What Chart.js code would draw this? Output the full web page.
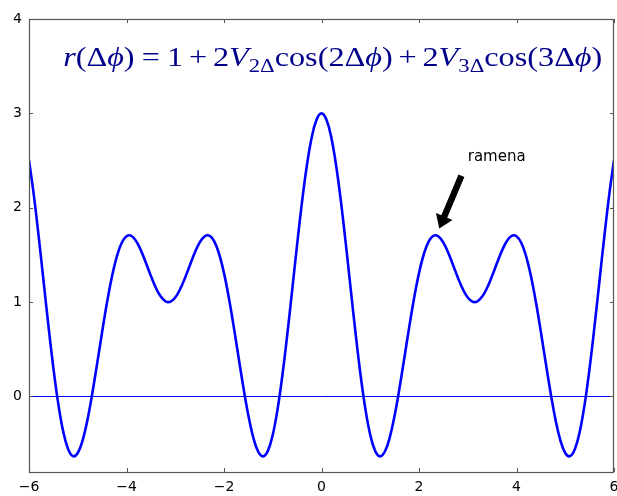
<!DOCTYPE html>
<html>
<head>
<meta charset="utf-8">
<script src="https://cdn.jsdelivr.net/npm/chart.js@4/dist/chart.umd.min.js"></script>
<style>
  html, body { margin: 0; padding: 0; background: #fff; }
</style>
</head>
<body>
<canvas id="ramena" width="617" height="496"></canvas>
<script>
// sampled r(dphi), dphi from -6 to 6
const dphi = [
  -6, -5.9, -5.8, -5.7, -5.6, -5.5, -5.4, -5.3, -5.2, -5.1,
  -5, -4.9, -4.8, -4.7, -4.6, -4.5, -4.4, -4.3, -4.2, -4.1,
  -4, -3.9, -3.8, -3.7, -3.6, -3.5, -3.4, -3.3, -3.2, -3.1,
  -3, -2.9, -2.8, -2.7, -2.6, -2.5, -2.4, -2.3, -2.2, -2.1,
  -2, -1.9, -1.8, -1.7, -1.6, -1.5, -1.4, -1.3, -1.2, -1.1,
  -1, -0.9, -0.8, -0.7, -0.6, -0.5, -0.4, -0.3, -0.2, -0.1,
  0,
  0.1, 0.2, 0.3, 0.4, 0.5, 0.6, 0.7, 0.8, 0.9, 1,
  1.1, 1.2, 1.3, 1.4, 1.5, 1.6, 1.7, 1.8, 1.9, 2,
  2.1, 2.2, 2.3, 2.4, 2.5, 2.6, 2.7, 2.8, 2.9, 3,
  3.1, 3.2, 3.3, 3.4, 3.5, 3.6, 3.7, 3.8, 3.9, 4,
  4.1, 4.2, 4.3, 4.4, 4.5, 4.6, 4.7, 4.8, 4.9, 5,
  5.1, 5.2, 5.3, 5.4, 5.5, 5.6, 5.7, 5.8, 5.9, 6
];
const r = [
  2.504, 2.129, 1.689, 1.216, 0.742, 0.302, -0.076, -0.367, -0.555, -0.632,
  -0.599, -0.464, -0.245, 0.038, 0.356, 0.684, 0.995, 1.266, 1.480, 1.626,
  1.698, 1.702, 1.645, 1.543, 1.414, 1.278, 1.155, 1.061, 1.009, 1.004,
  1.049, 1.137, 1.256, 1.391, 1.523, 1.630, 1.696, 1.704, 1.643, 1.510,
  1.307, 1.044, 0.738, 0.411, 0.089, -0.201, -0.433, -0.583, -0.634, -0.576,
  -0.406, -0.131, 0.233, 0.665, 1.135, 1.611, 2.059, 2.447, 2.746, 2.935,
  3.000,
  2.935, 2.746, 2.447, 2.059, 1.611, 1.135, 0.665, 0.233, -0.131, -0.406,
  -0.576, -0.634, -0.583, -0.433, -0.201, 0.089, 0.411, 0.738, 1.044, 1.307,
  1.510, 1.643, 1.704, 1.696, 1.630, 1.523, 1.391, 1.256, 1.137, 1.049,
  1.004, 1.009, 1.061, 1.155, 1.278, 1.414, 1.543, 1.645, 1.702, 1.698,
  1.626, 1.480, 1.266, 0.995, 0.684, 0.356, 0.038, -0.245, -0.464, -0.599,
  -0.632, -0.555, -0.367, -0.076, 0.302, 0.742, 1.216, 1.689, 2.129, 2.504
];
const zeroX = [-6, 6];
const zeroY = [0, 0];

const xTicks = [-6, -4, -2, 0, 2, 4, 6];
const yTicks = [0, 1, 2, 3, 4];

const noteText = 'ramena';
const noteAt = [3.0, 2.5];
const peakAt = [2.35, 1.70];
const formulaSpan = [-5.3, 5.76];
const formulaBase = 3.5;

// r(Δϕ) = 1 + 2V2Δ cos(2Δϕ) + 2V3Δ cos(3Δϕ), split into runs: i italic, n upright, s subscript, number = gap in em
const formula = [
  ['r', 'i'], ['(', 'n'], ['Δ', 'n'], ['ϕ', 'i'], [')', 'n'], [0.22], ['=', 'n'], [0.22], ['1', 'n'],
  [0.18], ['+', 'n'], [0.18], ['2', 'n'], ['V', 'i'], ['2Δ', 's'], ['cos', 'n'], ['(2', 'n'], ['Δ', 'n'], ['ϕ', 'i'], [')', 'n'],
  [0.18], ['+', 'n'], [0.18], ['2', 'n'], ['V', 'i'], ['3Δ', 's'], ['cos', 'n'], ['(3', 'n'], ['Δ', 'n'], ['ϕ', 'i'], [')', 'n']
];

const tickFont = { family: 'DejaVu Sans', size: 14 };
const frameColor = '#555555';

const framePlugin = {
  id: 'frame',
  afterDatasetsDraw(chart) {
    const { ctx, chartArea: a, scales: { x, y } } = chart;
    ctx.save();
    ctx.strokeStyle = frameColor;
    ctx.lineWidth = 1;
    ctx.beginPath();
    xTicks.forEach(v => {
      const px = Math.round(x.getPixelForValue(v)) + 0.5;
      ctx.moveTo(px, a.bottom); ctx.lineTo(px, a.bottom - 4);
      ctx.moveTo(px, a.top); ctx.lineTo(px, a.top + 4);
    });
    yTicks.forEach(v => {
      const py = Math.round(y.getPixelForValue(v)) + 0.5;
      ctx.moveTo(a.left, py); ctx.lineTo(a.left + 4, py);
      ctx.moveTo(a.right, py); ctx.lineTo(a.right - 4, py);
    });
    ctx.stroke();
    ctx.lineWidth = 1.2;
    ctx.strokeRect(Math.round(a.left) + 0.5, Math.round(a.top) + 0.5,
      Math.round(a.right - a.left) - 1, Math.round(a.bottom - a.top));
    ctx.restore();
  }
};

const notesPlugin = {
  id: 'notes',
  afterDraw(chart) {
    const { ctx, scales: { x, y } } = chart;
    ctx.save();

    // formula
    const size = 27;
    const fam = '"Liberation Serif", "DejaVu Serif", serif';
    const fontOf = s => s === 'i' ? `italic ${size}px ${fam}` : s === 's' ? `${Math.round(size * 0.7)}px ${fam}` : `${size}px ${fam}`;
    let total = 0;
    const widths = formula.map(p => {
      let w;
      if (typeof p[0] === 'number') w = p[0] * size;
      else { ctx.font = fontOf(p[1]); w = ctx.measureText(p[0]).width; }
      total += w;
      return w;
    });
    const x0 = x.getPixelForValue(formulaSpan[0]);
    const x1 = x.getPixelForValue(formulaSpan[1]);
    const by = y.getPixelForValue(formulaBase);
    ctx.translate(x0, by);
    ctx.scale((x1 - x0) / total, 1);
    ctx.fillStyle = '#00008b';
    ctx.textBaseline = 'alphabetic';
    ctx.textAlign = 'left';
    let cx = 0;
    formula.forEach((p, i) => {
      if (typeof p[0] !== 'number') {
        ctx.font = fontOf(p[1]);
        ctx.fillText(p[0], cx, p[1] === 's' ? size * 0.2 : 0);
      }
      cx += widths[i];
    });
    ctx.setTransform(1, 0, 0, 1, 0, 0);

    // annotation text
    const tx = x.getPixelForValue(noteAt[0]);
    const ty = y.getPixelForValue(noteAt[1]);
    ctx.fillStyle = '#000';
    ctx.font = '15px "DejaVu Sans"';
    ctx.fillText(noteText, tx, ty);

    // arrow towards the peak
    const px = x.getPixelForValue(peakAt[0]);
    const py = y.getPixelForValue(peakAt[1]);
    const vx = px - tx, vy = py - ty;
    const sx = tx + vx * 0.2, sy = ty + vy * 0.2;
    const ex = tx + vx * 0.9, ey = ty + vy * 0.9;
    const len = Math.hypot(ex - sx, ey - sy);
    const ux = (ex - sx) / len, uy = (ey - sy) / len;
    const nx = -uy, ny = ux;
    const sw = 3.2, hw = 9, hl = 13;
    const bx = ex - ux * hl, byy = ey - uy * hl;
    ctx.beginPath();
    ctx.moveTo(sx + nx * sw, sy + ny * sw);
    ctx.lineTo(bx + nx * sw, byy + ny * sw);
    ctx.lineTo(bx + nx * hw, byy + ny * hw);
    ctx.lineTo(ex, ey);
    ctx.lineTo(bx - nx * hw, byy - ny * hw);
    ctx.lineTo(bx - nx * sw, byy - ny * sw);
    ctx.lineTo(sx - nx * sw, sy - ny * sw);
    ctx.closePath();
    ctx.fill();
    ctx.restore();
  }
};

const minusSign = v => String(v).replace('-', '\u2212');

new Chart(document.getElementById('ramena').getContext('2d'), {
  type: 'line',
  data: {
    datasets: [{
      data: dphi.map((v, i) => ({ x: v, y: r[i] })),
      borderColor: '#0000ff',
      borderWidth: 2.6,
      pointRadius: 0,
      tension: 0.4,
      fill: false
    }, {
      data: zeroX.map((v, i) => ({ x: v, y: zeroY[i] })),
      borderColor: '#0000ff',
      borderWidth: 1,
      pointRadius: 0,
      fill: false
    }]
  },
  options: {
    responsive: false,
    animation: false,
    devicePixelRatio: 1,
    layout: { padding: { top: 19, right: 3, left: 0, bottom: 0 } },
    plugins: {
      legend: { display: false },
      tooltip: { enabled: false }
    },
    scales: {
      x: {
        type: 'linear',
        min: -6,
        max: 6,
        grid: { display: false, drawTicks: false },
        border: { display: false },
        afterBuildTicks: s => { s.ticks = xTicks.map(v => ({ value: v })); },
        afterFit: s => { s.height = 24; s.paddingLeft = 0; s.paddingRight = 0; },
        ticks: { font: tickFont, color: '#000', padding: 7, maxRotation: 0, autoSkip: false, callback: minusSign }
      },
      y: {
        min: -0.8,
        max: 4,
        grid: { display: false, drawTicks: false },
        border: { display: false },
        afterBuildTicks: s => { s.ticks = yTicks.map(v => ({ value: v })); },
        afterFit: s => { s.width = 29; s.paddingTop = 0; s.paddingBottom = 0; },
        ticks: { font: tickFont, color: '#000', padding: 7, autoSkip: false, callback: minusSign }
      }
    }
  },
  plugins: [framePlugin, notesPlugin]
});
</script>
</body>
</html>
